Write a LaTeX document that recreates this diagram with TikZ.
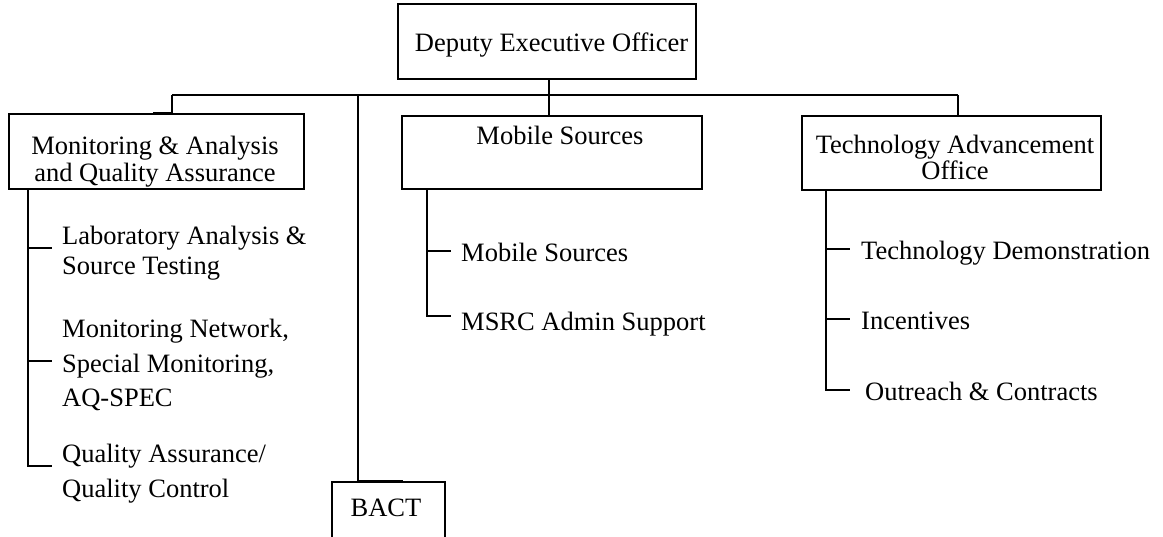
\documentclass[tikz,border=0pt]{standalone}
\usepackage{fontspec}
\setmainfont{Liberation Serif}
\begin{document}
\begin{tikzpicture}[x=1pt,y=-1pt,
  unitbox/.style={draw, line width=2pt, rectangle, inner sep=0pt},
  headtext/.style={inner sep=0pt, anchor=base, align=center,
    font=\fontsize{26.5}{27}\selectfont},
  subtext/.style={inner sep=0pt, anchor=base west, align=left,
    font=\fontsize{26.5}{35}\selectfont},
  link/.style={line width=1.3pt},
  stem/.style={line width=1.6pt},
  tab/.style={line width=2.6pt}]

\useasboundingbox (0,0) rectangle (1163,537);

% division boxes
\node[unitbox, minimum width=298pt, minimum height=75pt] (deo) at (547,41.5) {};
\node[unitbox, minimum width=295pt, minimum height=75pt] (mqa) at (156.5,151.5) {};
\node[unitbox, minimum width=300pt, minimum height=73pt] (ms) at (552,152.5) {};
\node[unitbox, minimum width=299pt, minimum height=74pt] (tao) at (951.5,153) {};
\node[draw, line width=1.3pt, inner sep=0pt, minimum width=113pt, minimum height=57pt] (bact) at (388.5,510.5) {};

% box titles (multi-line titles sit on their last baseline)
\node[headtext] (deoT) at (551.5,52) {Deputy Executive Officer};
\node[headtext] (mqaT) at (155,182) {Monitoring \& Analysis\\and Quality Assurance};
\node[headtext] (msT) at (560,145) {Mobile Sources};
\node[headtext, font=\fontsize{26.5}{26}\selectfont] (taoT) at (955,180) {Technology Advancement\\Office};
\node[headtext] (bactT) at (386,516.7) {BACT};

% sections
\node[subtext, font=\fontsize{26.5}{30}\selectfont] (lab) at (62,275) {Laboratory Analysis \&\\Source Testing};
\node[subtext] (net) at (62,407) {Monitoring Network,\\Special Monitoring,\\AQ-SPEC};
\node[subtext] (qa) at (62,497) {Quality Assurance/\\Quality Control};
\node[subtext] (msrc1) at (461,262) {Mobile Sources};
\node[subtext] (msrc2) at (461,331) {MSRC Admin Support};
\node[subtext] (demo) at (861,260) {Technology Demonstration};
\node[subtext] (inc) at (861,330) {Incentives};
\node[subtext] (out) at (865,401) {Outreach \& Contracts};

% bus junctions
\coordinate (jL) at (172,95);
\coordinate (jM) at (549,95);
\coordinate (jB) at (358,95);
\coordinate (jR) at (958,95);

\draw[link] (jL) -- (jR);
\draw[link] (deo.south -| jM) -- (ms.north -| jM);
\draw[link] (jL) -- (mqa.north -| jL);
\draw[tab] (mqa.north -| 153,0) -- (mqa.north -| jL);
\draw[link] (jR) -- (tao.north -| jR);
\draw[link] (jB) -- (bact.north -| jB);
\draw[tab] (bact.north -| jB) -- (bact.north -| 403,0);

% section stems
\coordinate (sL) at (28,0);
\coordinate (sM) at (427,0);
\coordinate (sR) at (826,0);

\draw[stem] (mqa.south -| sL) -- (28,466) -- (52,466);
\draw[link] (28,248) -- (52,248);
\draw[link] (28,361) -- (52,361);

\draw[stem] (ms.south -| sM) -- (427,316) -- (451,316);
\draw[link] (427,251) -- (451,251);

\draw[stem] (tao.south -| sR) -- (826,390) -- (850,390);
\draw[link] (826,249) -- (850,249);
\draw[link] (826,319) -- (850,319);
\end{tikzpicture}
\end{document}
